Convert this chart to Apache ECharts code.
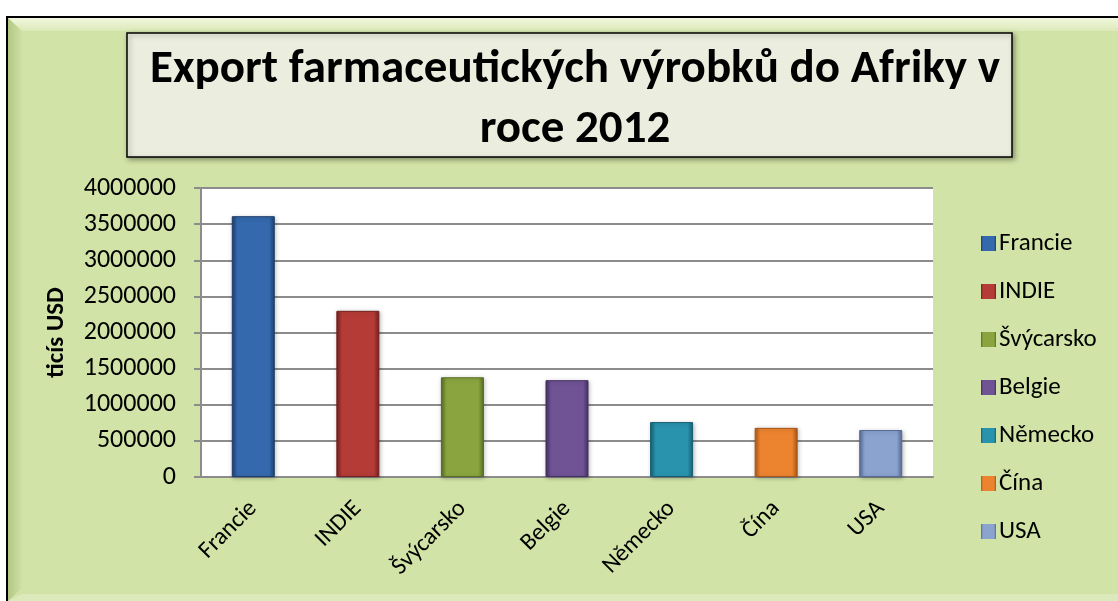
<!DOCTYPE html>
<html>
<head>
<meta charset="utf-8">
<script src="https://cdn.jsdelivr.net/npm/echarts@6/dist/echarts.min.js"></script>
<style>
  html, body { margin: 0; padding: 0; background: #fff; }
  #chart { width: 1118px; height: 601px; }
</style>
</head>
<body>
<div id="chart"></div>
<script>
  // data
  const categories = ['Francie', 'INDIE', 'Švýcarsko', 'Belgie', 'Německo', 'Čína', 'USA'];
  const values = [3610000, 2300000, 1380000, 1340000, 760000, 680000, 650000];
  const yTicks = { min: 0, max: 4000000, step: 500000 };

  // bar colours: [base, dark edge]
  const palette = [
    ['#3469ad', '#1d3f6c'],
    ['#b53b37', '#73201e'],
    ['#8aa53f', '#566d24'],
    ['#6f5394', '#452f63'],
    ['#2993ad', '#175f72'],
    ['#ec842f', '#a9561a'],
    ['#8aa3cf', '#566a94']
  ];

  const font = "Carlito, 'Open Sans', 'Noto Sans', sans-serif";

  function barFill(c) {
    return new echarts.graphic.LinearGradient(0, 0, 1, 0, [
      { offset: 0, color: c[1] },
      { offset: 0.13, color: c[0] },
      { offset: 0.87, color: c[0] },
      { offset: 1, color: c[1] }
    ]);
  }

  // one series per country so that the legend lists the countries
  const series = categories.map(function (name, i) {
    return {
      name: name,
      type: 'bar',
      barWidth: 43,
      barGap: '-100%',
      data: categories.map(function (_, j) { return j === i ? values[i] : null; }),
      itemStyle: {
        color: barFill(palette[i]),
        borderColor: palette[i][1],
        borderWidth: 1,
        shadowColor: 'rgba(0,0,0,0.25)',
        shadowBlur: 4,
        shadowOffsetX: 1,
        shadowOffsetY: 1
      }
    };
  });

  const chart = echarts.init(document.getElementById('chart'));
  chart.setOption({
    animation: false,
    backgroundColor: '#ffffff',
    color: palette.map(function (c) { return c[0]; }),
    graphic: [
      // outer chart frame
      { type: 'rect', z: -10, shape: { x: 7, y: 17, width: 1120, height: 600 },
        style: { fill: '#d1e3a6', stroke: '#000', lineWidth: 2 } },
      // bevel: top light strip
      { type: 'polygon', z: -9, shape: { points: [[8, 18], [1118, 18], [1118, 31], [22, 31]] },
        style: { fill: new echarts.graphic.LinearGradient(0, 0, 0, 1, [
          { offset: 0, color: '#f1f7dd' }, { offset: 1, color: '#dbe9b8' }]) } },
      // bevel: left dark strip
      { type: 'polygon', z: -9, shape: { points: [[8, 18], [22, 31], [22, 588], [8, 601]] },
        style: { fill: new echarts.graphic.LinearGradient(0, 0, 1, 0, [
          { offset: 0, color: '#b2c685' }, { offset: 1, color: '#cfe1a3' }]) } },
      // bevel: bottom strip
      { type: 'polygon', z: -9, shape: { points: [[22, 594], [1118, 594], [1118, 601], [8, 601]] },
        style: { fill: '#dce9bb' } },
      // title box
      { type: 'rect', z: -5, shape: { x: 127, y: 33, width: 885, height: 124 },
        style: { fill: '#ebeedf', stroke: '#000', lineWidth: 1.5,
          shadowColor: 'rgba(0,0,0,0.35)', shadowBlur: 5, shadowOffsetX: 2, shadowOffsetY: 2 } }
    ],
    title: {
      text: 'Export farmaceutických výrobků do Afriky v\nroce 2012',
      left: 570,
      top: 35,
      textAlign: 'center',
      textStyle: {
        fontFamily: font,
        fontWeight: 'bold',
        fontSize: 47,
        lineHeight: 60,
        color: '#000'
      }
    },
    legend: {
      orient: 'vertical',
      left: 976,
      top: 226,
      itemWidth: 15,
      itemHeight: 15,
      itemGap: 23,
      itemStyle: { borderWidth: 0 },
      icon: 'rect',
      textStyle: { fontFamily: font, fontSize: 25, lineHeight: 24, color: '#000', padding: [0, 0, 0, -2] },
      data: categories
    },
    grid: {
      left: 201,
      right: 185,
      top: 188,
      bottom: 124,
      show: true,
      backgroundColor: '#ffffff',
      borderWidth: 0
    },
    xAxis: {
      type: 'category',
      data: categories,
      axisLine: { lineStyle: { color: '#8c8c8c', width: 2 } },
      axisTick: { show: false },
      axisLabel: {
        rotate: 45,
        margin: 28,
        fontFamily: font,
        fontSize: 24,
        color: '#000'
      }
    },
    yAxis: {
      type: 'value',
      min: yTicks.min,
      max: yTicks.max,
      interval: yTicks.step,
      name: 'ticís USD',
      nameLocation: 'middle',
      nameRotate: 90,
      nameGap: 132,
      nameTextStyle: { fontFamily: font, fontSize: 25, fontWeight: 'bold', color: '#000' },
      axisLine: { show: true, lineStyle: { color: '#8c8c8c', width: 2 } },
      axisTick: { show: true, length: 7, lineStyle: { color: '#8c8c8c', width: 2 } },
      axisLabel: {
        margin: 25, fontFamily: font, fontSize: 26, color: '#000',
        formatter: function (v) { return String(v); }
      },
      splitLine: { lineStyle: { color: '#8c8c8c', width: 2 } }
    },
    series: series
  });
</script>
</body>
</html>
